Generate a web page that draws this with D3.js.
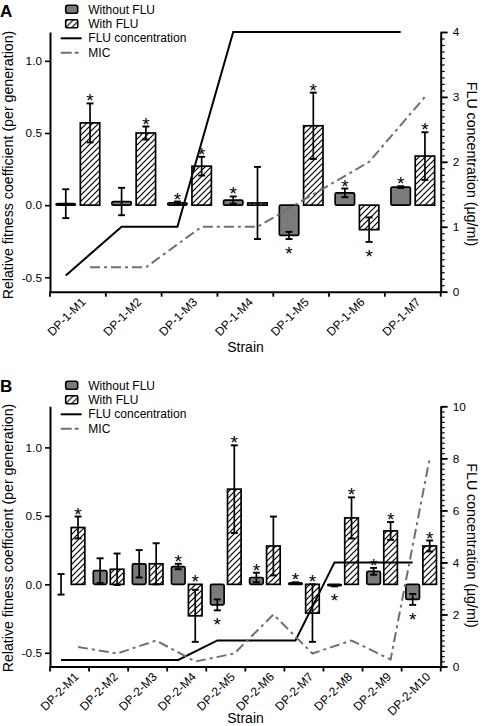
<!DOCTYPE html>
<html><head><meta charset="utf-8">
<script src="https://cdn.jsdelivr.net/npm/d3@7"></script>
<style>
body{margin:0;background:#fff}
svg{display:block}
text{font-family:"Liberation Sans",Arial,Helvetica,sans-serif;fill:#000}
</style>
</head><body>
<script>
// ---------- Panel A data ----------
const strainsA = ["DP-1-M1","DP-1-M2","DP-1-M3","DP-1-M4","DP-1-M5","DP-1-M6","DP-1-M7"];
const withoutA    = [0.01, 0.025, 0.015, 0.035, -0.21, 0.085, 0.125];
const withoutErrA = [0.10, 0.095, 0.01, 0.025, 0.025, 0.03, 0.006];
const withA       = [0.57, 0.50, 0.27, 0.015, 0.55, -0.17, 0.34];
const withErrA    = [0.135, 0.045, 0.065, 0.25, 0.23, 0.085, 0.165];
const sigWithoutA = ["", "", "up", "up", "down", "up", "up"];
const sigWithA    = ["up", "up", "up", "", "up", "down", "up"];
const fluA = [0.25, 1, 1, 4, 4, 4, 4];
const micA = [0.375, 0.375, 1, 1, 1.5, 2, 3];
const leftTicksA = [-0.5, 0, 0.5, 1.0];
const rightTicksA = [0, 1, 2, 3, 4];

// ---------- Panel B data ----------
const strainsB = ["DP-2-M1","DP-2-M2","DP-2-M3","DP-2-M4","DP-2-M5","DP-2-M6","DP-2-M7","DP-2-M8","DP-2-M9","DP-2-M10"];
const withoutB    = [0, 0.10, 0.15, 0.13, -0.15, 0.05, 0.01, -0.01, 0.095, -0.11];
const withoutErrB = [0.075, 0.09, 0.10, 0.02, 0.04, 0.035, 0.005, 0.005, 0.025, 0.04];
const withB       = [0.415, 0.11, 0.15, -0.23, 0.695, 0.28, -0.21, 0.485, 0.39, 0.28];
const withErrB    = [0.08, 0.115, 0.15, 0.19, 0.32, 0.215, 0.21, 0.15, 0.065, 0.04];
const sigWithoutB = ["", "", "", "up", "down", "up", "up", "down", "up", "down"];
const sigWithB    = ["up", "", "", "up", "up", "", "up", "up", "up", "up"];
const fluB = [0.25, 0.25, 0.25, 0.25, 1, 1, 1, 4, 4, 4];
const micB = [0.75, 0.5, 1, 0.19, 0.5, 2, 0.5, 1, 0.27, 8];
const leftTicksB = [-0.5, 0, 0.5, 1.0];
const rightTicksB = [0, 2, 4, 6, 8, 10];

const legendLabels = ["Without FLU", "With FLU", "FLU concentration", "MIC"];
const yLabel = "Relative fitness coefficient (per generation)";
const rLabel = "FLU concentration (µg/ml)";
const xLabel = "Strain";

const W = 482, H = 726;
const svg = d3.select("body").append("svg").attr("width", W).attr("height", H);
const defs = svg.append("defs");
const pat = defs.append("pattern").attr("id", "hatch")
  .attr("patternUnits", "userSpaceOnUse").attr("width", 6).attr("height", 6);
pat.append("rect").attr("width", 6).attr("height", 6).attr("fill", "#fff");
pat.append("path").attr("d", "M-1,1 l2,-2 M0,6 l6,-6 M5,7 l2,-2")
  .attr("stroke", "#000").attr("stroke-width", 1.2);

const GRAY = "#7b7b7b";
const MICCOL = "#707070";
const fmt = d => d3.format(".1f")(d).replace("\u2212", "-");

function panel(c) {
  const g = svg.append("g");
  const left = 50, right = 440.7;
  const x = d3.scaleBand().domain(c.strains).range([left, right]).paddingInner(0).paddingOuter(0);
  const sub = d3.scaleBand().domain(["without", "with"]).range([0, x.bandwidth()])
    .paddingInner(0.2).paddingOuter(0.25);
  const y = d3.scaleLinear().domain(c.yDomain).range([c.bottom, c.top]);
  const yr = d3.scaleLinear().domain(c.rDomain).range([c.bottom, c.top]);
  const bw = sub.bandwidth();

  const rows = c.strains.map((s, i) => ({
    s, i,
    wo: c.without[i], woE: c.withoutErr[i], woS: c.sigWithout[i],
    wi: c.with[i], wiE: c.withErr[i], wiS: c.sigWith[i]
  }));

  // bars
  rows.forEach(r => {
    const xo = x(r.s) + sub("without");
    const xi = x(r.s) + sub("with");
    g.append("rect").attr("x", xo).attr("width", bw)
      .attr("y", y(Math.max(0, r.wo))).attr("height", Math.abs(y(r.wo) - y(0)))
      .attr("rx", 1.5)
      .attr("fill", GRAY).attr("stroke", r.wo === 0 ? "#888" : "#000").attr("stroke-width", 1.7);
    g.append("rect").attr("x", xi).attr("width", bw)
      .attr("y", y(Math.max(0, r.wi))).attr("height", Math.abs(y(r.wi) - y(0)))
      .attr("fill", "url(#hatch)").attr("stroke", "#000").attr("stroke-width", 1.7);
  });

  // lines
  const lineFlu = d3.line().x((d, i) => x(c.strains[i]) + sub("without") + bw / 2).y(d => yr(d));
  const lineMic = d3.line().x((d, i) => x(c.strains[i]) + sub("with") + bw / 2).y(d => yr(d));
  g.append("path").attr("d", lineFlu(c.flu)).attr("fill", "none")
    .attr("stroke", "#000").attr("stroke-width", 2);
  g.append("path").attr("d", lineMic(c.mic)).attr("fill", "none")
    .attr("stroke", MICCOL).attr("stroke-width", 2).attr("stroke-dasharray", "10,4,3,4");

  // error bars and asterisks
  const cap = 3.5;
  const fs = 19;
  function err(cx, v, e, sig) {
    const y1 = y(v + e), y2 = y(v - e);
    g.append("line").attr("x1", cx).attr("x2", cx).attr("y1", y1).attr("y2", y2)
      .attr("stroke", "#000").attr("stroke-width", 1.7);
    [y1, y2].forEach(yy => g.append("line").attr("x1", cx - cap).attr("x2", cx + cap)
      .attr("y1", yy).attr("y2", yy).attr("stroke", "#000").attr("stroke-width", 1.9));
    if (sig === "up") {
      const cy = y(Math.max(v + e, v, 0)) - 7;
      g.append("text").attr("x", cx).attr("y", cy + 0.58 * fs).attr("text-anchor", "middle")
        .attr("font-size", fs).text("*");
    } else if (sig === "down") {
      const cy = y(Math.min(v - e, v, 0)) + 10;
      g.append("text").attr("x", cx).attr("y", cy + 0.58 * fs).attr("text-anchor", "middle")
        .attr("font-size", fs).text("*");
    }
  }
  rows.forEach(r => {
    err(x(r.s) + sub("without") + bw / 2, r.wo, r.woE, r.woS);
    err(x(r.s) + sub("with") + bw / 2, r.wi, r.wiE, r.wiS);
  });

  // left axis
  const ax = g.append("g").attr("transform", `translate(${left},0)`)
    .call(d3.axisLeft(y).tickValues(c.leftTicks).tickSize(5).tickSizeOuter(0).tickPadding(3).tickFormat(fmt));
  ax.select(".domain").attr("stroke-width", 2);
  ax.selectAll(".tick line").attr("stroke-width", 1.6);
  ax.selectAll("text").attr("font-size", 11.8).attr("font-family", "Liberation Sans, Arial, sans-serif");

  // right axis: minor then major
  const minor = d3.range(c.rDomain[0], c.rDomain[1] + c.rMinor / 2, c.rMinor);
  const rm = g.append("g").attr("transform", `translate(${right},0)`)
    .call(d3.axisRight(yr).tickValues(minor).tickSize(4).tickSizeOuter(0).tickFormat(""));
  rm.select(".domain").remove();
  rm.selectAll(".tick line").attr("stroke-width", 1.2);
  const ar = g.append("g").attr("transform", `translate(${right},0)`)
    .call(d3.axisRight(yr).tickValues(c.rTicks).tickSize(7).tickSizeOuter(0).tickPadding(5).tickFormat(d3.format("d")));
  ar.select(".domain").attr("stroke-width", 2);
  ar.selectAll(".tick line").attr("stroke-width", 1.8);
  ar.selectAll("text").attr("font-size", 11.8).attr("font-family", "Liberation Sans, Arial, sans-serif");

  // bottom axis
  const ab = g.append("g").attr("transform", `translate(0,${c.bottom})`)
    .call(d3.axisBottom(x).tickSize(0).tickSizeOuter(0).tickFormat(""));
  ab.select(".domain").attr("stroke-width", 2);
  const bounds = c.strains.map(s => x(s)).concat([x.range()[1]]);
  g.selectAll(null).data(bounds).enter().append("line")
    .attr("x1", d => d).attr("x2", d => d).attr("y1", c.bottom).attr("y2", c.bottom + 5)
    .attr("stroke", "#000").attr("stroke-width", 1.8);
  g.selectAll(null).data(c.strains).enter().append("text")
    .attr("transform", d => `translate(${x(d) + x.bandwidth() / 2 + c.labelDx},${c.bottom + 11}) rotate(-45)`)
    .attr("text-anchor", "end").attr("font-size", 12).text(d => d);

  // axis titles
  g.append("text").attr("transform", `translate(12.5,${c.yLabelY}) rotate(-90)`)
    .attr("text-anchor", "middle").attr("font-size", 14.2).text(yLabel);
  g.append("text").attr("transform", `translate(466.5,${c.rLabelY}) rotate(90)`)
    .attr("text-anchor", "middle").attr("font-size", 14.2).text(rLabel);
  g.append("text").attr("x", 245.5).attr("y", c.xLabelY).attr("text-anchor", "middle")
    .attr("font-size", 14).text(xLabel);

  // panel letter
  g.append("text").attr("x", 0).attr("y", c.letterY).attr("font-size", 17)
    .attr("font-weight", "bold").text(c.letter);

  // legend
  const lg = g.append("g").attr("transform", `translate(0,${c.legendY})`);
  const ly = [0, 14.5, 29, 43.4];
  lg.append("rect").attr("x", 65.7).attr("y", ly[0] - 4).attr("width", 12).attr("height", 8).attr("rx", 2)
    .attr("fill", GRAY).attr("stroke", "#000").attr("stroke-width", 1.6);
  lg.append("rect").attr("x", 65.7).attr("y", ly[1] - 4).attr("width", 12).attr("height", 8).attr("rx", 1)
    .attr("fill", "url(#hatch)").attr("stroke", "#000").attr("stroke-width", 1.6);
  lg.append("line").attr("x1", 60.7).attr("x2", 81.7).attr("y1", ly[2]).attr("y2", ly[2])
    .attr("stroke", "#000").attr("stroke-width", 2);
  lg.append("line").attr("x1", 60.7).attr("x2", 81.7).attr("y1", ly[3]).attr("y2", ly[3])
    .attr("stroke", MICCOL).attr("stroke-width", 2).attr("stroke-dasharray", "11,3,4,3");
  legendLabels.forEach((t, i) => lg.append("text").attr("x", 88.3).attr("y", ly[i] + 4.2)
    .attr("font-size", 12).text(t));
}

panel({
  strains: strainsA, without: withoutA, withoutErr: withoutErrA, with: withA, withErr: withErrA,
  sigWithout: sigWithoutA, sigWith: sigWithA, flu: fluA, mic: micA,
  leftTicks: leftTicksA, rTicks: rightTicksA, rMinor: 0.1,
  yDomain: [-0.6, 1.2], rDomain: [0, 4], top: 32, bottom: 291.7,
  yLabelY: 165, rLabelY: 164, xLabelY: 351.5, letter: "A", letterY: 17, legendY: 9.3, labelDx: 8.5
});
panel({
  strains: strainsB, without: withoutB, withoutErr: withoutErrB, with: withB, withErr: withErrB,
  sigWithout: sigWithoutB, sigWith: sigWithB, flu: fluB, mic: micB,
  leftTicks: leftTicksB, rTicks: rightTicksB, rMinor: 0.2,
  yDomain: [-0.6, 1.3], rDomain: [0, 10], top: 406.3, bottom: 666.5,
  yLabelY: 538, rLabelY: 545.5, xLabelY: 722.5, letter: "B", letterY: 392, legendY: 385.3, labelDx: 10
});
</script>
</body></html>
